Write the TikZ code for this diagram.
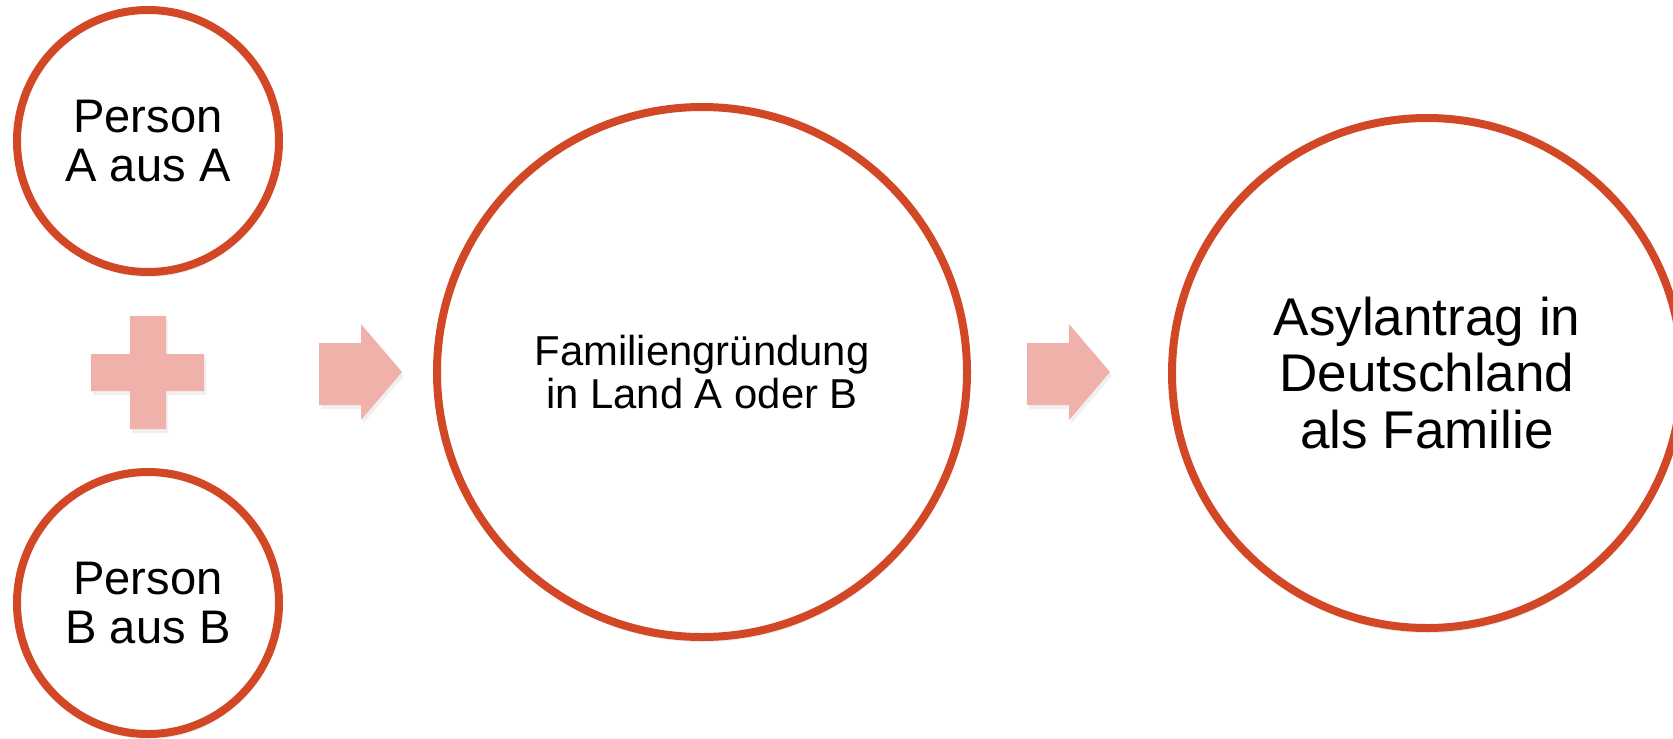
\documentclass[tikz,border=0pt]{standalone}
\usepackage{fontspec}
\setmainfont{Liberation Sans}
\usetikzlibrary{shadows}

\definecolor{rimorange}{HTML}{D24726}
\definecolor{blockpink}{HTML}{F0B1AB}

\tikzset{
  bubble/.style={circle, draw=rimorange, line width=0.8mm, fill=white, inner sep=0pt,
    align=center, drop shadow={opacity=0.15, shadow xshift=0.1mm, shadow yshift=-0.5mm}},
  pinkblock/.style={fill=blockpink, drop shadow={opacity=0.12, shadow xshift=0.2mm, shadow yshift=-0.4mm}}
}

\begin{document}
\begin{tikzpicture}[x=0.1mm, y=-0.1mm]
\useasboundingbox (0,0) rectangle (1673,738);

\node (PersA) [bubble, minimum size=26.2mm, font=\fontsize{13.4pt}{14.2pt}\selectfont] at (148,141) {Person\\A aus A}; % person A
\node (PersB) [bubble, minimum size=26.2mm, font=\fontsize{13.4pt}{14.2pt}\selectfont] at (148,603) {Person\\B aus B}; % person B
\node (Fam) [bubble, minimum size=53mm, font=\fontsize{11.9pt}{12.2pt}\selectfont] at (702,372) {Familiengründung\\in Land A oder B}; % family
\node (Asyl) [bubble, minimum size=51mm, font=\fontsize{15.1pt}{16.2pt}\selectfont] at (1427,373) {Asylantrag in\\Deutschland\\als Familie}; % asylum

\fill[pinkblock] (130,316) -- (166,316) -- (166,354) -- (204,354) -- (204,391) -- (166,391) -- (166,429) -- (130,429) -- (130,391) -- (91,391) -- (91,354) -- (130,354) -- cycle ; % plus
\fill[pinkblock] (319,343) -- (361,343) -- (361,324) -- (402,372) -- (361,420) -- (361,405) -- (319,405) -- cycle ; % arrow 1
\fill[pinkblock] (1027,343) -- (1069,343) -- (1069,324) -- (1110,372) -- (1069,420) -- (1069,405) -- (1027,405) -- cycle ; % arrow 2

\end{tikzpicture}
\end{document}
